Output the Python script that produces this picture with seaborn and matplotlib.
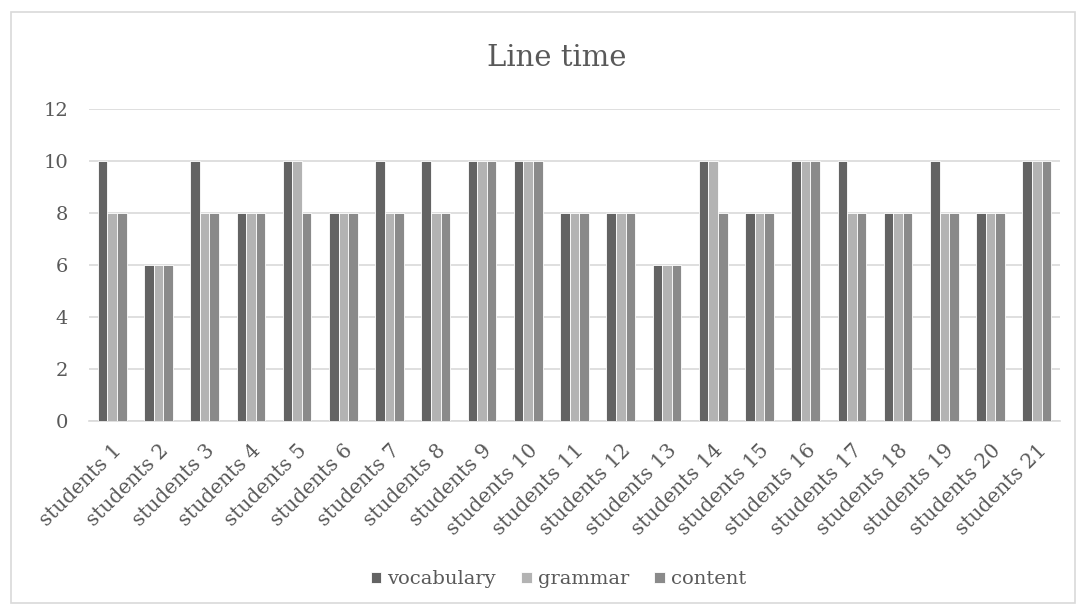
import matplotlib
matplotlib.use("Agg")
import matplotlib.pyplot as plt
from matplotlib.patches import Rectangle
import seaborn as sns
import pandas as pd

students = [f"students {i}" for i in range(1, 22)]
vocabulary = [10, 6, 10, 8, 10, 8, 10, 10, 10, 10, 8, 8, 6, 10, 8, 10, 10, 8, 10, 8, 10]
grammar    = [8, 6, 8, 8, 10, 8, 8, 8, 10, 10, 8, 8, 6, 10, 8, 10, 8, 8, 8, 8, 10]
content    = [8, 6, 8, 8, 8, 8, 8, 8, 10, 10, 8, 8, 6, 8, 8, 10, 8, 8, 8, 8, 10]
series_names = ["vocabulary", "grammar", "content"]
series_colors = ["#636363", "#b3b3b3", "#8a8a8a"]
y_ticks = [0, 2, 4, 6, 8, 10, 12]

rows = []
for name, vals in zip(series_names, [vocabulary, grammar, content]):
    for s, v in zip(students, vals):
        rows.append({"student": s, "series": name, "score": v})
df = pd.DataFrame(rows)

sns.set_theme(style="white")
plt.rcParams["font.family"] = ["DejaVu Serif"]

fig = plt.figure(figsize=(10.86, 6.13), dpi=100)
ax = fig.add_axes([0.082, 0.313, 0.894, 0.509])

sns.barplot(data=df, x="student", y="score", hue="series",
            hue_order=series_names, palette=series_colors,
            width=0.62, edgecolor="white", linewidth=0.6,
            errorbar=None, ax=ax, zorder=3)

ax.set_ylim(0, 12)
ax.set_yticks(y_ticks)
ax.set_xlim(-0.5, len(students) - 0.5)
ax.yaxis.grid(True, color="#d9d9d9", linewidth=1.2, zorder=0)
ax.set_axisbelow(True)
for side in ["top", "right", "left"]:
    ax.spines[side].set_visible(False)
ax.spines["bottom"].set_color("#d9d9d9")
ax.spines["bottom"].set_linewidth(1.2)
ax.set_xlabel("")
ax.set_ylabel("")
ax.tick_params(axis="both", length=0, labelsize=14, colors="#595959")
ax.tick_params(axis="y", pad=15)
ax.tick_params(axis="x", pad=14, labelsize=14.5)
plt.setp(ax.get_xticklabels(), rotation=45, ha="right", rotation_mode="anchor")

fig.text(0.513, 0.905, "Line time", ha="center", va="center",
         fontsize=21, color="#595959")

handles, labels = ax.get_legend_handles_labels()
ax.legend(handles, labels, loc="center", bbox_to_anchor=(0.514, 0.055),
          bbox_transform=fig.transFigure, ncol=3, frameon=False,
          fontsize=14, labelcolor="#595959", handlelength=0.55, handleheight=0.55,
          handletextpad=0.3, columnspacing=1.3)

# chart frame
fig.patches.append(Rectangle((0.0105, 0.016), 0.979, 0.965, transform=fig.transFigure,
                             fill=False, edgecolor="#d9d9d9", linewidth=1.2))

fig.savefig("out.png", dpi=100, facecolor="white")
